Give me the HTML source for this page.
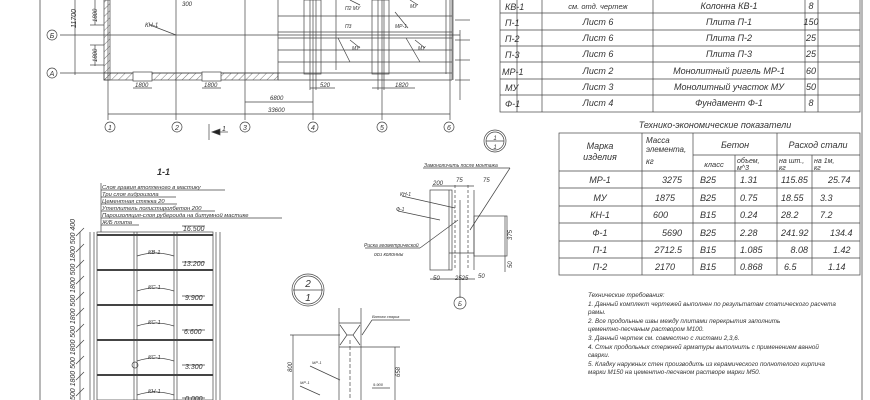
<!DOCTYPE html>
<html><head><meta charset="utf-8"><style>
html,body{margin:0;padding:0;background:#fff}
svg{display:block}
text{font-family:"Liberation Sans","DejaVu Sans",sans-serif;font-style:italic;fill:#333}
</style></head><body>
<svg width="870" height="400" viewBox="0 0 870 400" xmlns="http://www.w3.org/2000/svg">
<defs>
<pattern id="h" width="5" height="5" patternUnits="userSpaceOnUse" patternTransform="rotate(45)"><line x1="0" y1="0" x2="0" y2="5" stroke="#555" stroke-width="0.8"/></pattern>
</defs>
<g stroke="#444" stroke-width="0.7" fill="none">
<!-- frame -->
<line x1="40" y1="0" x2="40" y2="400" stroke="#888" stroke-width="1.2"/>
<line x1="862" y1="0" x2="862" y2="400" stroke="#888" stroke-width="1.2"/>

<!-- PLAN -->
<line x1="60" y1="35" x2="460" y2="35"/>
<line x1="60" y1="73" x2="280" y2="73"/>
<line x1="75" y1="0" x2="75" y2="75"/>
<!-- axes verticals -->
<line x1="108" y1="0" x2="108" y2="120"/>
<line x1="176" y1="0" x2="176" y2="120"/>
<line x1="245" y1="0" x2="245" y2="120"/>
<line x1="313" y1="0" x2="313" y2="120"/>
<line x1="382" y1="0" x2="382" y2="120"/>
<line x1="450" y1="0" x2="450" y2="120"/>
<!-- left wall -->
<rect x="104" y="0" width="6" height="80" fill="url(#h)"/>
<rect x="104" y="73" width="174" height="7" fill="url(#h)"/>
<rect x="133" y="72" width="19" height="9" fill="#fff"/>
<rect x="202" y="72" width="19" height="9" fill="#fff"/>
<line x1="90" y1="45" x2="104" y2="45"/><line x1="90" y1="25" x2="104" y2="25"/><line x1="90" y1="65" x2="104" y2="65"/>
<line x1="95" y1="0" x2="95" y2="25"/><line x1="95" y1="45" x2="95" y2="66"/>
<!-- right block lines -->
<line x1="278" y1="16" x2="452" y2="16"/>
<line x1="278" y1="32" x2="452" y2="32"/>
<line x1="278" y1="38" x2="452" y2="38"/>
<line x1="278" y1="50" x2="452" y2="50"/>
<line x1="278" y1="62" x2="452" y2="62"/>
<line x1="278" y1="73" x2="452" y2="73"/>
<line x1="278" y1="80" x2="452" y2="80"/>
<line x1="278" y1="0" x2="278" y2="80"/>
<rect x="304" y="0" width="17" height="74"/>
<rect x="372" y="0" width="17" height="74"/>
<line x1="310" y1="0" x2="310" y2="90"/><line x1="316" y1="0" x2="316" y2="90"/>
<line x1="378" y1="0" x2="378" y2="90"/><line x1="384" y1="0" x2="384" y2="90"/>
<line x1="336" y1="0" x2="336" y2="70"/><line x1="446" y1="0" x2="446" y2="74"/>
<line x1="452" y1="0" x2="452" y2="80"/>
<line x1="453" y1="0" x2="453" y2="80"/>
<line x1="338" y1="38" x2="350" y2="62"/><line x1="406" y1="38" x2="420" y2="62"/>
<line x1="350" y1="0" x2="360" y2="5"/><line x1="410" y1="0" x2="418" y2="5"/>
<line x1="395" y1="12" x2="408" y2="28"/><line x1="350" y1="40" x2="360" y2="48"/><line x1="415" y1="40" x2="425" y2="48"/>
<!-- dims -->
<line x1="133" y1="88" x2="152" y2="88"/><line x1="202" y1="88" x2="221" y2="88"/>
<line x1="310" y1="88" x2="335" y2="88"/><line x1="372" y1="88" x2="415" y2="88"/>
<line x1="245" y1="102" x2="313" y2="102"/>
<line x1="108" y1="114" x2="450" y2="114"/>
<line x1="460" y1="30" x2="460" y2="100"/><line x1="455" y1="20" x2="470" y2="20"/>
<line x1="455" y1="40" x2="470" y2="40"/><line x1="455" y1="60" x2="470" y2="60"/><line x1="455" y1="80" x2="470" y2="80"/>
<!-- axis circles -->
<circle cx="52" cy="35" r="5"/><circle cx="52" cy="73" r="5"/>
<circle cx="110" cy="127" r="5"/><circle cx="177" cy="127" r="5"/><circle cx="245" cy="127" r="5"/>
<circle cx="313" cy="127" r="5"/><circle cx="382" cy="127" r="5"/><circle cx="449" cy="127" r="5"/>
<line x1="209" y1="124" x2="209" y2="140"/><line x1="212" y1="132" x2="228" y2="132"/>
<polygon points="212,132 220,129 220,135" fill="#222"/>
<line x1="150" y1="25" x2="176" y2="35"/>

<!-- TOP TABLE -->
<rect x="500" y="-2" width="360" height="114"/>
<line x1="517" y1="0" x2="517" y2="112"/><line x1="542" y1="0" x2="542" y2="112"/>
<line x1="653" y1="0" x2="653" y2="112"/><line x1="805" y1="0" x2="805" y2="112"/>
<line x1="818" y1="0" x2="818" y2="112"/>
<line x1="500" y1="13" x2="860" y2="13"/><line x1="500" y1="30" x2="860" y2="30"/>
<line x1="500" y1="46" x2="860" y2="46"/><line x1="500" y1="62" x2="860" y2="62"/>
<line x1="500" y1="79" x2="860" y2="79"/><line x1="500" y1="95" x2="860" y2="95"/>

<!-- TECH TABLE -->
<rect x="559" y="133" width="301" height="142"/>
<line x1="642" y1="133" x2="642" y2="275"/><line x1="693" y1="133" x2="693" y2="275"/>
<line x1="735" y1="155" x2="735" y2="275"/><line x1="777" y1="133" x2="777" y2="275"/>
<line x1="812" y1="155" x2="812" y2="275"/>
<line x1="693" y1="155" x2="860" y2="155"/>
<line x1="559" y1="171" x2="860" y2="171"/><line x1="559" y1="188" x2="860" y2="188"/>
<line x1="559" y1="206" x2="860" y2="206"/><line x1="559" y1="223" x2="860" y2="223"/>
<line x1="559" y1="241" x2="860" y2="241"/><line x1="559" y1="258" x2="860" y2="258"/>

<!-- SECTION 1-1 -->
<line x1="101" y1="190" x2="225" y2="190"/><line x1="101" y1="197" x2="176" y2="197"/>
<line x1="101" y1="204" x2="177" y2="204"/><line x1="101" y1="211" x2="215" y2="211"/>
<line x1="101" y1="218" x2="282" y2="218"/><line x1="101" y1="225" x2="139" y2="225"/>
<line x1="101" y1="183" x2="101" y2="232"/>
<rect x="97" y="232" width="116" height="168"/>
<line x1="90" y1="232" x2="90" y2="400"/><line x1="94" y1="232" x2="94" y2="400"/>
<line x1="216" y1="232" x2="216" y2="400"/><line x1="220" y1="232" x2="220" y2="400"/>
<line x1="134" y1="232" x2="134" y2="400"/><line x1="137" y1="232" x2="137" y2="400"/>
<line x1="174" y1="232" x2="174" y2="400"/><line x1="177" y1="232" x2="177" y2="400"/>
<g stroke-width="2"><line x1="97" y1="235" x2="213" y2="235"/><line x1="97" y1="270" x2="213" y2="270"/>
<line x1="97" y1="305" x2="213" y2="305"/><line x1="97" y1="340" x2="213" y2="340"/><line x1="97" y1="375" x2="213" y2="375"/></g>
<path d="M137 256 Q155 250 174 256 M137 291 Q155 285 174 291 M137 326 Q155 320 174 326 M137 361 Q155 355 174 361 M137 395 Q155 389 174 395"/>
<line x1="182" y1="296" x2="205" y2="296"/><line x1="182" y1="262" x2="205" y2="262"/><line x1="182" y1="330" x2="205" y2="330"/>
<line x1="182" y1="365" x2="205" y2="365"/><line x1="182" y1="398" x2="205" y2="398"/><line x1="182" y1="226" x2="205" y2="226"/>
<line x1="80" y1="232" x2="80" y2="400"/>
<g><line x1="76" y1="236" x2="84" y2="228"/><line x1="76" y1="252" x2="84" y2="244"/><line x1="76" y1="268" x2="84" y2="260"/>
<line x1="76" y1="284" x2="84" y2="276"/><line x1="76" y1="300" x2="84" y2="292"/><line x1="76" y1="316" x2="84" y2="308"/>
<line x1="76" y1="332" x2="84" y2="324"/><line x1="76" y1="348" x2="84" y2="340"/><line x1="76" y1="364" x2="84" y2="356"/>
<line x1="76" y1="380" x2="84" y2="372"/><line x1="76" y1="396" x2="84" y2="388"/></g>
<circle cx="135" cy="365" r="3"/>

<!-- DETAIL 1/1 -->
<circle cx="495" cy="141" r="11"/><circle cx="495" cy="141" r="9"/>
<line x1="486" y1="141" x2="504" y2="141"/>
<line x1="423" y1="168" x2="510" y2="168"/><line x1="510" y1="168" x2="470" y2="230"/>
<rect x="430" y="190" width="22" height="80"/>
<line x1="449" y1="190" x2="449" y2="270"/><line x1="474" y1="190" x2="474" y2="270"/>
<line x1="455" y1="185" x2="455" y2="270" stroke-dasharray="3,2"/><line x1="468" y1="185" x2="468" y2="270" stroke-dasharray="3,2"/>
<rect x="474" y="216" width="33" height="40"/>
<line x1="449" y1="253" x2="474" y2="253"/>
<line x1="460" y1="200" x2="460" y2="298"/>
<line x1="432" y1="186" x2="474" y2="186"/><line x1="505" y1="216" x2="505" y2="272"/>
<line x1="430" y1="279" x2="475" y2="279"/>
<line x1="402" y1="196" x2="455" y2="208"/><line x1="398" y1="211" x2="440" y2="220"/>
<line x1="365" y1="248" x2="420" y2="248"/><line x1="420" y1="248" x2="458" y2="220"/>
<circle cx="460" cy="303" r="6"/>

<!-- DETAIL 2/1 -->
<circle cx="308" cy="290" r="16"/><circle cx="308" cy="290" r="14"/>
<line x1="293" y1="290" x2="323" y2="290"/>
<line x1="339" y1="308" x2="339" y2="400"/><line x1="361" y1="308" x2="361" y2="400"/>
<line x1="339" y1="323" x2="361" y2="323"/><line x1="339" y1="347" x2="361" y2="347"/>
<path d="M340 325 L347 335 L340 345 M360 325 L353 335 L360 345 M347 335 L353 335"/>
<line x1="350" y1="340" x2="350" y2="400" stroke-dasharray="4,2"/>
<line x1="290" y1="335" x2="340" y2="335"/><line x1="361" y1="347" x2="400" y2="347"/>
<line x1="293" y1="335" x2="293" y2="400"/><line x1="395" y1="347" x2="395" y2="400"/>
<line x1="310" y1="366" x2="340" y2="380"/><line x1="300" y1="386" x2="320" y2="395"/>
<line x1="362" y1="335" x2="372" y2="320"/><line x1="372" y1="320" x2="410" y2="320"/>
<line x1="372" y1="388" x2="390" y2="388"/>
</g>

<!-- TEXT -->
<g font-size="8">
<text x="52" y="38" text-anchor="middle" font-size="7" font-style="normal">Б</text>
<text x="52" y="76" text-anchor="middle" font-size="7" font-style="normal">А</text>
<text x="110" y="130" text-anchor="middle" font-size="7" font-style="normal">1</text>
<text x="177" y="130" text-anchor="middle" font-size="7" font-style="normal">2</text>
<text x="245" y="130" text-anchor="middle" font-size="7" font-style="normal">3</text>
<text x="313" y="130" text-anchor="middle" font-size="7" font-style="normal">4</text>
<text x="382" y="130" text-anchor="middle" font-size="7" font-style="normal">5</text>
<text x="449" y="130" text-anchor="middle" font-size="7" font-style="normal">6</text>
<text x="222" y="131" font-size="7">1</text>
<text transform="translate(76,28) rotate(-90)" font-size="7">11700</text>
<text transform="translate(97,22) rotate(-90)" font-size="6">1800</text>
<text transform="translate(97,62) rotate(-90)" font-size="6">1800</text>
<text x="145" y="27" font-size="6">КН-1</text>
<text x="182" y="6" font-size="6">300</text>
<text x="135" y="87" font-size="6">1800</text><text x="204" y="87" font-size="6">1800</text>
<text x="320" y="87" font-size="6">520</text><text x="395" y="87" font-size="6">1820</text>
<text x="270" y="100" font-size="6">6800</text><text x="268" y="112" font-size="6">33600</text>
<text x="345" y="10" font-size="5">П2 МУ</text><text x="410" y="8" font-size="5">МУ</text>
<text x="345" y="28" font-size="5">П3</text><text x="395" y="28" font-size="5">МР-1</text>
<text x="352" y="50" font-size="5">МУ</text><text x="418" y="50" font-size="5">МУ</text>

<g font-size="9">
<text x="505" y="10">КВ-1</text><text x="505" y="26">П-1</text><text x="505" y="42">П-2</text>
<text x="505" y="58">П-3</text><text x="502" y="75">МР-1</text><text x="505" y="91">МУ</text><text x="505" y="107">Ф-1</text>
<text x="598" y="9" text-anchor="middle" font-size="7.5">см. отд. чертеж</text>
<text x="598" y="25" text-anchor="middle">Лист 6</text><text x="598" y="41" text-anchor="middle">Лист 6</text>
<text x="598" y="57" text-anchor="middle">Лист 6</text><text x="598" y="74" text-anchor="middle">Лист 2</text>
<text x="598" y="90" text-anchor="middle">Лист 3</text><text x="598" y="106" text-anchor="middle">Лист 4</text>
<text x="729" y="9" text-anchor="middle">Колонна КВ-1</text><text x="729" y="25" text-anchor="middle">Плита П-1</text>
<text x="729" y="41" text-anchor="middle">Плита П-2</text><text x="729" y="57" text-anchor="middle">Плита П-3</text>
<text x="729" y="74" text-anchor="middle">Монолитный ригель МР-1</text>
<text x="729" y="90" text-anchor="middle">Монолитный участок МУ</text>
<text x="729" y="106" text-anchor="middle">Фундамент Ф-1</text>
<text x="811" y="9" text-anchor="middle">8</text><text x="811" y="25" text-anchor="middle">150</text>
<text x="811" y="41" text-anchor="middle">25</text><text x="811" y="57" text-anchor="middle">25</text>
<text x="811" y="74" text-anchor="middle">60</text><text x="811" y="90" text-anchor="middle">50</text>
<text x="811" y="106" text-anchor="middle">8</text>

<text x="715" y="128" text-anchor="middle">Технико-экономические показатели</text>
<text x="600" y="149" text-anchor="middle">Марка</text><text x="600" y="160" text-anchor="middle">изделия</text>
<text x="646" y="143" font-size="8">Масса</text><text x="646" y="152" font-size="8">элемента,</text><text x="646" y="164" font-size="8">кг</text>
<text x="735" y="148" text-anchor="middle">Бетон</text><text x="818" y="148" text-anchor="middle">Расход стали</text>
<text x="714" y="167" text-anchor="middle" font-size="7.5">класс</text>
<text x="737" y="163" font-size="7">объем,</text><text x="737" y="170" font-size="7">м^3</text>
<text x="779" y="163" font-size="7">на шт.,</text><text x="779" y="170" font-size="7">кг</text>
<text x="814" y="163" font-size="7">на 1м,</text><text x="814" y="170" font-size="7">кг</text>
</g>
<g font-size="9">
<text x="600" y="183" text-anchor="middle">МР-1</text><text x="600" y="201" text-anchor="middle">МУ</text>
<text x="600" y="218" text-anchor="middle">КН-1</text><text x="600" y="236" text-anchor="middle">Ф-1</text>
<text x="600" y="253" text-anchor="middle">П-1</text><text x="600" y="270" text-anchor="middle">П-2</text>
<text x="682" y="183" text-anchor="end">3275</text><text x="675" y="201" text-anchor="end">1875</text>
<text x="668" y="218" text-anchor="end">600</text><text x="682" y="236" text-anchor="end">5690</text>
<text x="682" y="253" text-anchor="end">2712.5</text><text x="675" y="270" text-anchor="end">2170</text>
<text x="700" y="183">B25</text><text x="700" y="201">B25</text><text x="700" y="218">B15</text>
<text x="700" y="236">B25</text><text x="700" y="253">B15</text><text x="700" y="270">B15</text>
<text x="740" y="183">1.31</text><text x="740" y="201">0.75</text><text x="740" y="218">0.24</text>
<text x="740" y="236">2.28</text><text x="740" y="253">1.085</text><text x="740" y="270">0.868</text>
<text x="781" y="183">115.85</text><text x="781" y="201">18.55</text><text x="781" y="218">28.2</text>
<text x="781" y="236">241.92</text><text x="808" y="253" text-anchor="end">8.08</text><text x="784" y="270">6.5</text>
<text x="828" y="183">25.74</text><text x="820" y="201">3.3</text><text x="820" y="218">7.2</text>
<text x="830" y="236">134.4</text><text x="833" y="253">1.42</text><text x="828" y="270">1.14</text>
</g>

<text x="157" y="175" font-size="9" font-weight="bold" font-style="normal">1-1</text>
<g font-size="5.8" font-style="normal">
<text x="102" y="189">Слоя гравия втопленого в мастику</text>
<text x="102" y="196">Три слоя гидроизола</text>
<text x="102" y="203">Цементная стяжка 20</text>
<text x="102" y="210">Утеплитель полистиролбетон 200</text>
<text x="102" y="217">Пароизоляция-слоя рубероида на битумной мастике</text>
<text x="102" y="224">Ж/Б плита</text>
<text x="183" y="231" font-size="7">16.500</text><text x="183" y="266" font-size="7">13.200</text>
<text x="185" y="300" font-size="7">9.900</text><text x="184" y="334" font-size="7">6.600</text>
<text x="185" y="369" font-size="7">3.300</text><text x="185" y="401" font-size="7">0.000</text>
<text x="148" y="254">КВ-1</text><text x="148" y="289">КС-1</text><text x="148" y="324">КС-1</text>
<text x="148" y="359">КС-1</text><text x="148" y="393">КН-1</text>
</g>
<text transform="translate(75,400) rotate(-90)" font-size="7" font-style="normal">500 1800 500 1800 500 1800 500 1800 500 1800 500 400</text>

<text x="495" y="140" text-anchor="middle" font-size="6">1</text><text x="495" y="149" text-anchor="middle" font-size="6">1</text>
<text x="424" y="167" font-size="5">Замоноличить после монтажа</text>
<text x="433" y="185" font-size="6">200</text><text x="456" y="182" font-size="6">75</text><text x="483" y="182" font-size="6">75</text>
<text x="400" y="196" font-size="5">КН-1</text><text x="396" y="211" font-size="5">Ф-1</text>
<text x="364" y="247" font-size="5">Риска геометрической</text><text x="374" y="256" font-size="5">оси колонны</text>
<text transform="translate(512,240) rotate(-90)" font-size="6">375</text>
<text transform="translate(512,268) rotate(-90)" font-size="6">50</text>
<text x="433" y="280" font-size="6">50</text><text x="455" y="280" font-size="6">2525</text><text x="478" y="278" font-size="6">50</text>
<text x="460" y="306" text-anchor="middle" font-size="6">Б</text>
<text x="308" y="287" text-anchor="middle" font-size="10">2</text><text x="308" y="301" text-anchor="middle" font-size="10">1</text>
<text x="372" y="318" font-size="4">Ванная сварка</text>
<text transform="translate(292,372) rotate(-90)" font-size="6">800</text>
<text transform="translate(400,377) rotate(-90)" font-size="6">658</text>
<text x="312" y="364" font-size="4">МР-1</text><text x="300" y="384" font-size="4">МР-1</text>
<text x="373" y="386" font-size="4">9.900</text>
</g>

<g font-size="6.3">
<text x="588" y="297">Технические требования:</text>
<text x="588" y="306">1. Данный комплект чертежей выполнен по результатам статического расчета</text>
<text x="588" y="314">рамы.</text>
<text x="588" y="323">2. Все продольные швы между плитами перекрытия заполнить</text>
<text x="588" y="331">цементно-песчаным раствором М100.</text>
<text x="588" y="340">3. Данный чертеж см. совместно с листами 2,3,6.</text>
<text x="588" y="349">4. Стык продольных стержней арматуры выполнить с применением ванной</text>
<text x="588" y="357">сварки.</text>
<text x="588" y="366">5. Кладку наружных стен производить из керамического полнотелого кирпича</text>
<text x="588" y="374">марки М150 на цементно-песчаном растворе марки М50.</text>
</g>
</svg>
</body></html>
